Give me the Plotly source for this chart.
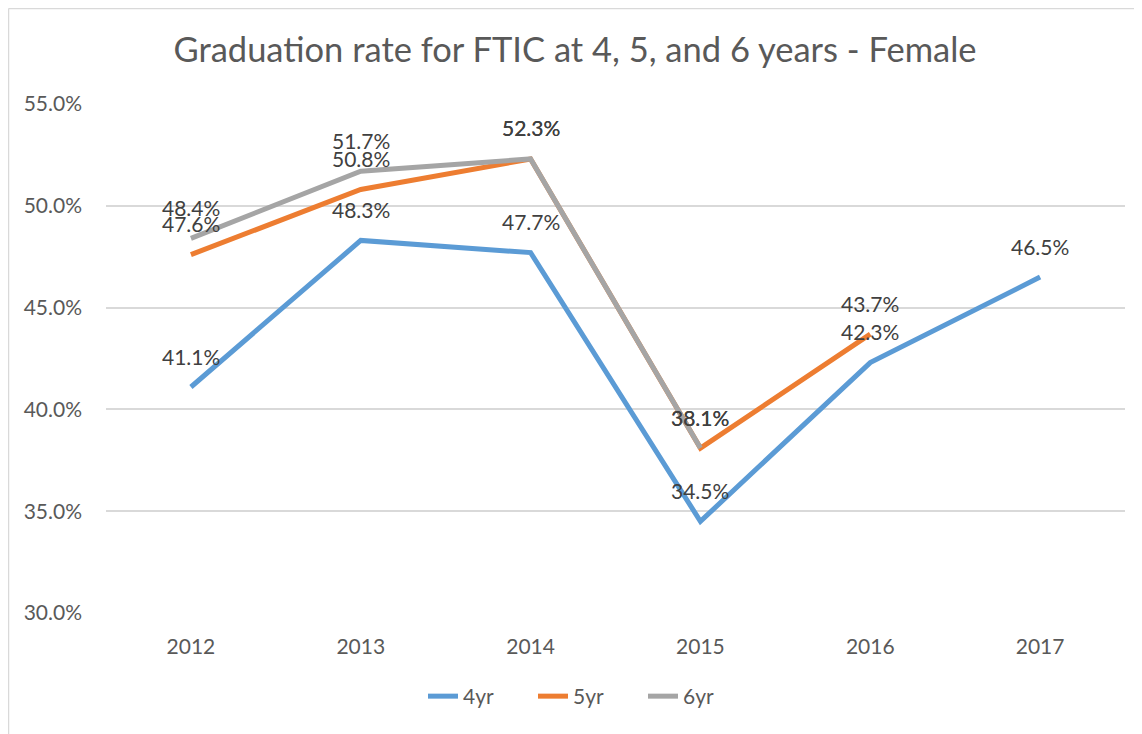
import plotly.graph_objects as go

years = ["2012", "2013", "2014", "2015", "2016", "2017"]
yr4 = [41.1, 48.3, 47.7, 34.5, 42.3, 46.5]
yr5 = [47.6, 50.8, 52.3, 38.1, 43.7, None]
yr6 = [48.4, 51.7, 52.3, 38.1, None, None]
series_names = ["4yr", "5yr", "6yr"]
colors = ["#5B9BD5", "#ED7D31", "#A5A5A5"]

FONT = "Lato"
TXT = "#595959"

W, H = 1134, 726
L, R, T, B = 98, 17, 96, 121
PW, PH = W - L - R, H - T - B

fig = go.Figure()
for name, vals, col in zip(series_names, [yr4, yr5, yr6], colors):
    fig.add_trace(go.Scatter(
        x=years, y=[v / 100 if v is not None else None for v in vals],
        mode="lines", name=name,
        line=dict(color=col, width=5),
        hoverinfo="skip",
    ))

annotations = []
for vals in [yr4, yr5, yr6]:
    for i, v in enumerate(vals):
        if v is None:
            continue
        annotations.append(dict(
            x=i, y=v / 100, xref="x", yref="y", text=f"{v:.1f}%",
            showarrow=False, yshift=31,
            font=dict(family=FONT, size=21, color="#404040"),
        ))

fig.update_layout(
    width=W, height=H,
    margin=dict(l=L, r=R, t=T, b=B),
    paper_bgcolor="white", plot_bgcolor="white",
    title=dict(text="Graduation rate for FTIC at 4, 5, and 6 years - Female",
               x=0.5, xanchor="center", y=1 - 42 / H, yanchor="middle",
               font=dict(family=FONT, size=34.5, color=TXT)),
    font=dict(family=FONT, size=21, color=TXT),
    xaxis=dict(type="category", range=[-0.5, 5.5], showgrid=False, zeroline=False,
               showline=False, ticks="",
               tickfont=dict(family=FONT, size=21, color=TXT),
               ticklabelstandoff=19),
    yaxis=dict(range=[0.30, 0.55], dtick=0.05, tickformat=".1%",
               showgrid=True, gridcolor="#D9D9D9", gridwidth=1.5,
               zeroline=False, showline=False, ticks="",
               tickfont=dict(family=FONT, size=21, color=TXT),
               ticklabelstandoff=23),
    legend=dict(orientation="h", x=0.473, xanchor="center", y=-83.5 / PH, yanchor="middle",
                font=dict(family=FONT, size=21, color=TXT),
                entrywidth=65, tracegroupgap=0),
    annotations=annotations,
    shapes=[
        dict(type="line", xref="paper", yref="paper",
             x0=-(L - 0.5) / PW, x1=1 + R / PW, y0=1 + (T - 0.5) / PH, y1=1 + (T - 0.5) / PH,
             line=dict(color="#D9D9D9", width=1.5)),
        dict(type="line", xref="paper", yref="paper",
             x0=-(L - 0.5) / PW, x1=-(L - 0.5) / PW, y0=1 + (T - 0.5) / PH, y1=-B / PH,
             line=dict(color="#D9D9D9", width=1.5)),
    ],
)

fig.write_html("out.html")
